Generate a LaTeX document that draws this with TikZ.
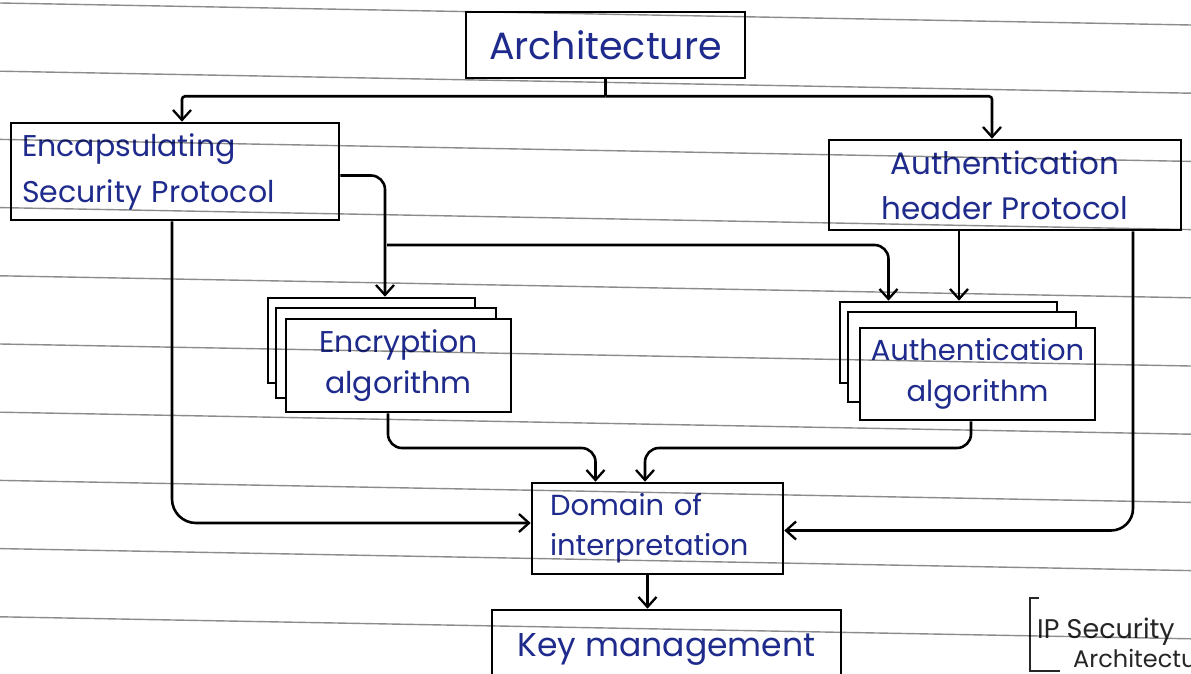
\documentclass[tikz,border=0pt]{standalone}
\usepackage{fontspec}
\setmainfont{Poppins}
\usetikzlibrary{arrows.meta,calc}
\definecolor{ink}{RGB}{30,42,140}
\definecolor{rulecol}{RGB}{140,140,140}
\begin{document}
\begin{tikzpicture}[x=1pt,y=-1pt,
  box/.style={draw=black, line width=2.6pt, fill=white, inner sep=0pt, text=ink, align=center},
  conn/.style={draw=black, line width=2.6pt, rounded corners=14pt},
  arr/.style={conn, -{Straight Barb[length=10pt,width=18pt,line width=2.3pt]}},
  ruleline/.style={draw=rulecol, line width=1.4pt},
  txt/.style={text=black!85, inner sep=0pt}]
\useasboundingbox (0,0) rectangle (1191,674);
\clip (0,0) rectangle (1191,674);
\fill[white] (0,0) rectangle (1191,674);

% boxes
\node[box, minimum width=279pt, minimum height=66pt, font=\fontsize{38}{44}\selectfont] (arch) at (605.5,45) {Architecture};
\node[box, minimum width=328pt, minimum height=97pt, text width=306pt, align=left, font=\fontsize{30}{46}\selectfont] (esp) at (175,171.5) {Encapsulating\\Security Protocol};
\node[box, minimum width=352pt, minimum height=90pt, font=\fontsize{31}{45}\selectfont] (ah) at (1005,185) {Authentication\\header Protocol};

\node[box, minimum width=207pt, minimum height=85pt] (encC) at (371.5,340.5) {};
\node[box, minimum width=220pt, minimum height=90pt] (encB) at (386,353) {};
\node[box, minimum width=225pt, minimum height=93pt, font=\fontsize{30}{41}\selectfont] (enc) at (398.5,365.5) {Encryption\\algorithm};

\node[box, minimum width=217pt, minimum height=81pt] (authC) at (948.5,342.5) {};
\node[box, minimum width=228pt, minimum height=90pt] (authB) at (962,357) {};
\node[box, minimum width=235pt, minimum height=92pt, font=\fontsize{29}{41}\selectfont] (auth) at (977.5,374) {Authentication\\algorithm};

\node[box, minimum width=251pt, minimum height=91pt, text width=215pt, align=left, font=\fontsize{29}{40}\selectfont] (dom) at (657.5,528.5) {Domain of\\interpretation};
\node[box, minimum width=349pt, minimum height=80pt, font=\fontsize{33}{38}\selectfont] (key) at (666.5,650) {\raisebox{10pt}{Key management}};

% connectors
\draw[conn] (arch.south) -- ++(0,17) coordinate (j);
\draw[arr, rounded corners=3pt] (j) -| ([xshift=7pt]esp.north);
\draw[arr, rounded corners=3pt] (j) -| ([xshift=-13pt]ah.north);

\draw[arr] ([yshift=-4pt]esp.east) -| ([xshift=13.5pt]encC.north);
\coordinate (b1) at (387,245);
\draw[arr] (b1) -| ([xshift=-60pt]authC.north);
\draw[arr] ([xshift=-46pt]ah.south) -- ([xshift=-46pt]ah.south |- authC.north);

\draw[arr, rounded corners=22pt] ([xshift=128pt]ah.south) |- ([yshift=-2pt]dom.east);
\draw[arr, rounded corners=24pt] ([xshift=-3pt]esp.south) |- ([yshift=5.5pt]dom.west);

\coordinate (m) at (0,448);
\draw[arr] ([xshift=-10.5pt]enc.south) |- ([xshift=-62pt]dom.north |- m) -- ([xshift=-62pt]dom.north);
\draw[arr] ([xshift=-6.5pt]auth.south) |- ([xshift=-12.5pt]dom.north |- m) -- ([xshift=-12.5pt]dom.north);
\draw[arr] ([xshift=-10pt]dom.south) -- ([xshift=-10pt]dom.south |- key.north);

% side note
\draw[line width=1.6pt, black!85] (1039,598) -- (1030,598) -- (1030,671) -- (1060,671);
\node[txt, anchor=base west, font=\fontsize{27}{32}\selectfont] (ip) at (1037,638) {IP Security};
\node[txt, anchor=base west, font=\fontsize{24}{30}\selectfont] (ipa) at (1073,667) {Architecture};

% ruled paper lines
\begin{scope}[blend mode=multiply]
\foreach \k in {0,...,9} \draw[ruleline] (0,3+68.2*\k) -- (1191,25+68.2*\k);
\end{scope}
\end{tikzpicture}
\end{document}
